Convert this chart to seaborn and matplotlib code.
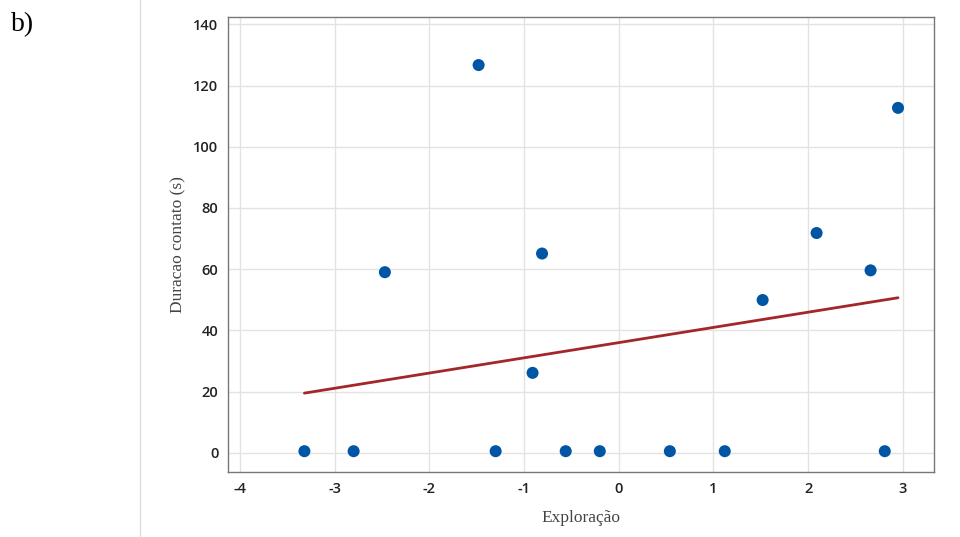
import matplotlib
matplotlib.use("Agg")
import matplotlib.pyplot as plt
import seaborn as sns
import pandas as pd
from matplotlib.lines import Line2D

exploracao = [-3.32, -2.80, -2.47, -1.48, -1.30, -0.91, -0.81, -0.56,
              -0.20, 0.54, 1.12, 1.52, 2.09, 2.66, 2.81, 2.95]
duracao = [0.5, 0.5, 59.0, 126.7, 0.5, 26.1, 65.1, 0.5,
           0.5, 0.5, 0.5, 49.9, 71.8, 59.6, 0.5, 112.7]
x_ticks = [-4, -3, -2, -1, 0, 1, 2, 3]
y_ticks = [0, 20, 40, 60, 80, 100, 120, 140]

df = pd.DataFrame({"Exploração": exploracao, "Duracao": duracao})

sns.set_style("white")
plt.rcParams['font.family'] = ['Open Sans', 'DejaVu Sans']
plt.rcParams['axes.unicode_minus'] = False

fig = plt.figure(figsize=(9.6, 5.37), dpi=100)
ax = fig.add_axes([228/960, 1-472/537, (934-228)/960, (472-16.7)/537])

sns.regplot(data=df, x="Exploração", y="Duracao", ax=ax, ci=None,
            scatter_kws=dict(s=75, color="#0055A5", edgecolor="none", alpha=1, zorder=3),
            line_kws=dict(color="#A3262A", lw=2, zorder=2))

ax.set_xlim(-4.127, 3.33)
ax.set_ylim(-6.3, 142.5)
ax.set_xticks(x_ticks)
ax.set_yticks(y_ticks)
ax.set_xticklabels([str(v) for v in x_ticks])
ax.set_yticklabels([str(v) for v in y_ticks])
ax.grid(True, color="#E3E3E3", lw=1)
ax.set_axisbelow(True)
for s in ax.spines.values():
    s.set_color("#777777")
    s.set_linewidth(1)
ax.tick_params(axis="both", direction="out", length=4, width=1, color="#777777",
               labelsize=10.5, labelcolor="#222222", pad=3)
for lab in ax.get_xticklabels() + ax.get_yticklabels():
    lab.set_fontweight("semibold")

ax.set_xlabel("Exploração", family="Liberation Serif", fontsize=12.5, color="#444444", labelpad=10)
ax.set_ylabel("Duracao contato (s)", family="Liberation Serif", fontsize=12.5, color="#444444", labelpad=5)

fig.text(23/960, 1-25/537, "b)", family="Liberation Serif", fontsize=20, color="black",
         ha="center", va="center")
fig.add_artist(Line2D([140/960, 140/960], [0, 1], color="#DDDDDD", lw=1, transform=fig.transFigure))

fig.savefig("out.png", dpi=100, facecolor="white")
